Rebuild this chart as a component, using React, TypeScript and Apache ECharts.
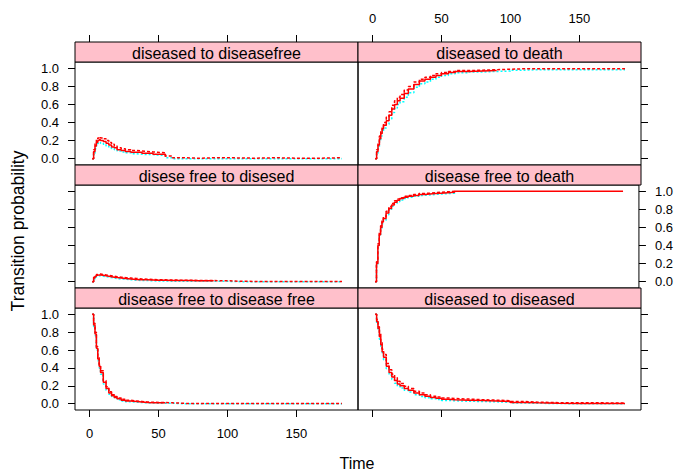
import React, { useEffect, useRef } from "react";
import * as echarts from "echarts";

const times = [2, 3, 4, 5, 6, 7, 8, 10, 12, 14, 16, 18, 20, 23, 26, 30, 34, 38, 42, 46, 50, 55, 60, 70, 80, 90, 100, 110, 120, 135, 150, 165, 183];

const panelTitles = [
  "diseased to diseasefree",
  "diseased to death",
  "disese free to disesed",
  "disease free to death",
  "disease free to disease free",
  "diseased to diseased",
];

const xTicks = [0, 50, 100, 150];
const yTicks = [0, 0.2, 0.4, 0.6, 0.8, 1.0];

const N = null;

// diseased to diseasefree
const est1 = [0, 0.08, 0.14, 0.18, 0.2, 0.21, 0.2, 0.19, 0.17, 0.15, 0.13, 0.12, 0.1, 0.09, 0.08, 0.07, 0.07, 0.06, 0.06, 0.05, 0.05, 0.02, N, N, N, N, N, N, N, N, N, N, N];
const up1 = [0, 0.1, 0.17, 0.21, 0.23, 0.24, 0.23, 0.22, 0.2, 0.18, 0.16, 0.14, 0.12, 0.11, 0.1, 0.09, 0.085, 0.08, 0.075, 0.07, 0.065, 0.03, 0.01, 0.005, 0.01, 0.01, 0.008, 0.005, 0.01, 0.005, 0.005, 0.01, 0.01];
const lo1 = [0, 0.06, 0.11, 0.15, 0.17, 0.18, 0.17, 0.16, 0.14, 0.12, 0.11, 0.1, 0.085, 0.075, 0.065, 0.055, 0.05, 0.045, 0.045, 0.04, 0.035, 0.01, 0, 0, 0, 0, 0, 0, 0, 0, 0, 0, 0];

// diseased to death
const est2 = [0, 0.08, 0.15, 0.22, 0.28, 0.33, 0.37, 0.42, 0.48, 0.55, 0.6, 0.64, 0.67, 0.72, 0.77, 0.82, 0.86, 0.88, 0.9, 0.92, 0.94, 0.955, 0.965, 0.97, 0.975, 0.98, N, N, N, N, N, N, N];
const up2 = [0, 0.1, 0.18, 0.25, 0.31, 0.36, 0.4, 0.46, 0.52, 0.59, 0.64, 0.68, 0.71, 0.76, 0.8, 0.85, 0.88, 0.9, 0.92, 0.94, 0.955, 0.965, 0.975, 0.98, 0.985, 0.99, 0.995, 0.995, 0.995, 0.995, 0.995, 0.995, 0.995];
const lo2 = [0, 0.06, 0.12, 0.19, 0.25, 0.3, 0.34, 0.38, 0.44, 0.51, 0.56, 0.6, 0.63, 0.68, 0.73, 0.79, 0.83, 0.85, 0.88, 0.9, 0.92, 0.94, 0.95, 0.96, 0.965, 0.97, 0.98, 0.985, 0.985, 0.985, 0.985, 0.985, 0.985];

// disese free to disesed
const est3 = [0, 0.04, 0.06, 0.07, 0.075, 0.075, 0.07, 0.065, 0.06, 0.055, 0.05, 0.045, 0.04, 0.035, 0.03, 0.025, 0.02, 0.02, 0.018, 0.015, 0.015, 0.012, 0.012, 0.01, 0.01, 0.008, N, N, N, N, N, N, N];
const up3 = [0, 0.05, 0.07, 0.08, 0.085, 0.085, 0.08, 0.075, 0.07, 0.065, 0.06, 0.055, 0.05, 0.045, 0.04, 0.035, 0.03, 0.028, 0.025, 0.022, 0.02, 0.018, 0.016, 0.014, 0.012, 0.01, 0.004, 0.003, 0.003, 0.003, 0.003, 0.003, 0.003];
const lo3 = [0, 0.03, 0.05, 0.06, 0.065, 0.065, 0.06, 0.055, 0.05, 0.045, 0.04, 0.035, 0.03, 0.027, 0.022, 0.017, 0.013, 0.012, 0.01, 0.008, 0.008, 0.006, 0.006, 0.005, 0.005, 0.004, 0, 0, 0, 0, 0, 0, 0];

// disease free to death
const est4 = [0, 0.2, 0.4, 0.52, 0.6, 0.66, 0.7, 0.76, 0.81, 0.85, 0.88, 0.9, 0.92, 0.935, 0.945, 0.955, 0.965, 0.97, 0.975, 0.98, 0.985, 0.99, 1, 1, 1, 1, 1, 1, 1, 1, 1, 1, 1];
const up4 = [0, 0.22, 0.42, 0.54, 0.62, 0.68, 0.72, 0.78, 0.83, 0.865, 0.895, 0.915, 0.93, 0.945, 0.955, 0.965, 0.975, 0.98, 0.985, 0.99, 0.995, 1, 1, N, N, N, N, N, N, N, N, N, N];
const lo4 = [0, 0.18, 0.38, 0.5, 0.58, 0.64, 0.68, 0.74, 0.79, 0.835, 0.865, 0.885, 0.905, 0.92, 0.935, 0.945, 0.955, 0.96, 0.965, 0.97, 0.975, 0.98, 1, N, N, N, N, N, N, N, N, N, N];

// disease free to disease free
const est5 = [1, 0.88, 0.78, 0.62, 0.5, 0.42, 0.35, 0.24, 0.17, 0.12, 0.09, 0.07, 0.055, 0.04, 0.03, 0.025, 0.02, 0.015, 0.012, 0.01, 0.01, 0.008, N, N, N, N, N, N, N, N, N, N, N];
const up5 = [1, 0.9, 0.8, 0.64, 0.52, 0.44, 0.37, 0.26, 0.19, 0.135, 0.1, 0.08, 0.065, 0.05, 0.038, 0.032, 0.026, 0.02, 0.017, 0.014, 0.013, 0.01, 0.004, 0.003, 0.003, 0.003, 0.003, 0.003, 0.003, 0.003, 0.003, 0.003, 0.003];
const lo5 = [1, 0.86, 0.76, 0.6, 0.48, 0.4, 0.33, 0.22, 0.15, 0.105, 0.08, 0.06, 0.045, 0.03, 0.022, 0.018, 0.014, 0.01, 0.008, 0.006, 0.006, 0.005, 0, 0, 0, 0, 0, 0, 0, 0, 0, 0, 0];

// diseased to diseased
const est6 = [1, 0.92, 0.84, 0.75, 0.66, 0.58, 0.52, 0.42, 0.35, 0.3, 0.26, 0.22, 0.2, 0.17, 0.15, 0.12, 0.1, 0.085, 0.07, 0.06, 0.05, 0.045, 0.04, 0.035, 0.03, 0.025, 0.015, 0.01, 0.005, 0.003, 0.002, 0.002, 0.002];
const up6 = [1, 0.94, 0.86, 0.78, 0.69, 0.61, 0.55, 0.45, 0.38, 0.33, 0.29, 0.25, 0.225, 0.195, 0.17, 0.14, 0.12, 0.1, 0.085, 0.075, 0.065, 0.058, 0.052, 0.045, 0.04, 0.034, 0.025, 0.018, 0.012, 0.01, 0.01, 0.008, 0.006];
const lo6 = [1, 0.9, 0.82, 0.72, 0.63, 0.55, 0.49, 0.39, 0.32, 0.27, 0.23, 0.195, 0.175, 0.15, 0.13, 0.1, 0.082, 0.068, 0.055, 0.046, 0.037, 0.033, 0.028, 0.025, 0.021, 0.017, 0.008, 0.005, 0.002, 0, 0, 0, 0];

const estimates = [est1, est2, est3, est4, est5, est6];
const uppers = [up1, up2, up3, up4, up5, up6];
const lowers = [lo1, lo2, lo3, lo4, lo5, lo6];

const XMIN = -10.5;
const XMAX = 194.6;
const YMIN = -0.07;
const YMAX = 1.07;

const FONT = "Liberation Sans, Arial, sans-serif";

function pairs(vals: (number | null)[]) {
  const out: number[][] = [];
  vals.forEach((v, i) => {
    if (v !== null) out.push([times[i], v]);
  });
  return out;
}

export default function App() {
  const ref = useRef<HTMLDivElement>(null);
  useEffect(() => {
    if (!ref.current) return;
    const chart = echarts.init(ref.current, undefined, { renderer: "svg" });

    const colLeft = [75, 358];
    const colW = 283;
    const rowTop = [42, 165, 288];
    const stripH = 20;
    const plotH = [103, 103, 102];

    const grids: any[] = [];
    const xAxes: any[] = [];
    const yAxes: any[] = [];
    const series: any[] = [];
    const graphics: any[] = [];

    for (let p = 0; p < 6; p++) {
      const row = Math.floor(p / 2);
      const col = p % 2;
      grids.push({
        left: colLeft[col],
        top: rowTop[row] + stripH,
        width: colW,
        height: plotH[row],
        show: true,
        borderColor: "#000",
        borderWidth: 1,
        backgroundColor: "transparent",
      });
      xAxes.push({
        gridIndex: p,
        type: "value",
        min: XMIN,
        max: XMAX,
        position: "bottom",
        axisLine: { show: false, onZero: false },
        splitLine: { show: false },
        axisTick: {
          show: row === 2,
          inside: false,
          length: 7,
          customValues: xTicks,
          lineStyle: { color: "#000" },
        },
        axisLabel: {
          show: row === 2 && col === 0,
          customValues: xTicks,
          margin: 17,
          fontSize: 13,
          color: "#000",
          fontFamily: FONT,
        },
      });
      yAxes.push({
        gridIndex: p,
        type: "value",
        min: YMIN,
        max: YMAX,
        position: col === 0 ? "left" : "right",
        axisLine: { show: false, onZero: false },
        splitLine: { show: false },
        axisTick: {
          show: true,
          inside: false,
          length: 7,
          customValues: yTicks,
          lineStyle: { color: "#000" },
        },
        axisLabel: {
          show: (col === 0 && row !== 1) || (col === 1 && row === 1),
          customValues: yTicks,
          formatter: (v: number) => v.toFixed(1),
          margin: 16,
          fontSize: 13,
          color: "#000",
          fontFamily: FONT,
        },
      });
      series.push({
        type: "line",
        xAxisIndex: p,
        yAxisIndex: p,
        data: pairs(lowers[p]),
        step: "end",
        showSymbol: false,
        lineStyle: { color: "#00FFFF", width: 1.5, type: [2, 2] },
      });
      series.push({
        type: "line",
        xAxisIndex: p,
        yAxisIndex: p,
        data: pairs(uppers[p]),
        step: "end",
        showSymbol: false,
        lineStyle: { color: "#FF0000", width: 1.5, type: [3, 2] },
      });
      series.push({
        type: "line",
        xAxisIndex: p,
        yAxisIndex: p,
        data: pairs(estimates[p]),
        step: "end",
        showSymbol: false,
        lineStyle: { color: "#FF0000", width: 1.5 },
      });
      graphics.push({
        type: "rect",
        shape: { x: colLeft[col], y: rowTop[row], width: colW, height: stripH },
        style: { fill: "#FFC0CB", stroke: "#000", lineWidth: 1 },
      });
      graphics.push({
        type: "text",
        x: colLeft[col] + colW / 2,
        y: rowTop[row] + stripH / 2 + 1,
        style: {
          text: panelTitles[p],
          fontSize: 16,
          fontFamily: FONT,
          fill: "#000",
          align: "center",
          verticalAlign: "middle",
        },
      });
    }

    // top axes on first row
    for (let col = 0; col < 2; col++) {
      xAxes.push({
        gridIndex: col,
        type: "value",
        min: XMIN,
        max: XMAX,
        position: "top",
        offset: stripH,
        axisLine: { show: false, onZero: false },
        splitLine: { show: false },
        axisTick: {
          show: true,
          inside: false,
          length: 7,
          customValues: xTicks,
          lineStyle: { color: "#000" },
        },
        axisLabel: {
          show: col === 1,
          customValues: xTicks,
          margin: 17,
          fontSize: 13,
          color: "#000",
          fontFamily: FONT,
        },
      });
    }

    graphics.push({
      type: "text",
      x: 18,
      y: 231,
      rotation: Math.PI / 2,
      style: {
        text: "Transition probability",
        fontSize: 17.5,
        fontFamily: FONT,
        fill: "#000",
        align: "center",
        verticalAlign: "middle",
      },
    });
    graphics.push({
      type: "text",
      x: 357,
      y: 463,
      style: {
        text: "Time",
        fontSize: 16,
        fontFamily: FONT,
        fill: "#000",
        align: "center",
        verticalAlign: "middle",
      },
    });

    chart.setOption({
      animation: false,
      backgroundColor: "#fff",
      grid: grids,
      xAxis: xAxes,
      yAxis: yAxes,
      series,
      graphic: graphics,
    });
    return () => chart.dispose();
  }, []);
  return (
    <div
      ref={ref}
      style={{ position: "fixed", left: 0, top: 0, width: 676, height: 472 }}
    />
  );
}
